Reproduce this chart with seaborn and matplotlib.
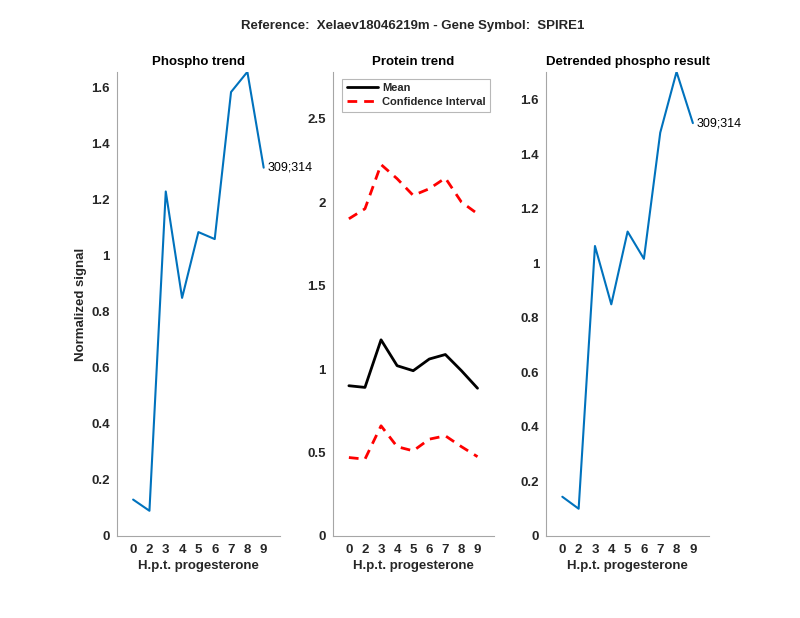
import seaborn as sns
import matplotlib
matplotlib.use('Agg')
import matplotlib.pyplot as plt
import pandas as pd

# time points (hours post progesterone), plotted at even positions
hpt_labels = ['0', '2', '3', '4', '5', '6', '7', '8', '9']
positions = [1, 2, 3, 4, 5, 6, 7, 8, 9]

phospho = [0.13, 0.09, 1.23, 0.85, 1.085, 1.06, 1.585, 1.657, 1.315]
protein_mean = [0.90, 0.89, 1.175, 1.02, 0.99, 1.06, 1.087, 0.99, 0.885]
protein_upper = [1.90, 1.96, 2.225, 2.14, 2.04, 2.08, 2.144, 2.00, 1.93]
protein_lower = [0.47, 0.46, 0.66, 0.535, 0.51, 0.58, 0.60, 0.535, 0.475]
detrended = [0.144, 0.10, 1.064, 0.85, 1.117, 1.017, 1.48, 1.703, 1.515]

site_label = '309;314'
gene_title = 'Reference:  Xelaev18046219m - Gene Symbol:  SPIRE1'

sns.set_style('white')
plt.rcParams['font.family'] = ['Liberation Sans', 'DejaVu Sans']

blue = '#0072BD'
spine_col = '#a6a6a6'
txt_col = '#262626'
dash = (0, (3.5, 2.5))

fig = plt.figure(figsize=(8, 6.18), dpi=100)
ax1 = fig.add_axes([0.146, 0.1327, 0.204, 0.751])
ax2 = fig.add_axes([0.416, 0.1327, 0.201, 0.751])
ax3 = fig.add_axes([0.6825, 0.1327, 0.204, 0.751])

df1 = pd.DataFrame({'pos': positions, 'val': phospho})
sns.lineplot(data=df1, x='pos', y='val', ax=ax1, color=blue, lw=1.5)
ax1.text(positions[-1] + 0.25, phospho[-1], site_label, fontsize=9,
         va='center', ha='left', color='black')
ax1.set_ylim(0, max(phospho))
ax1.set_yticks([0, 0.2, 0.4, 0.6, 0.8, 1.0, 1.2, 1.4, 1.6])
ax1.set_yticklabels(['0', '0.2', '0.4', '0.6', '0.8', '1', '1.2', '1.4', '1.6'])
ax1.set_title('Phospho trend', fontsize=9.5, fontweight='bold', color='black', pad=5)
ax1.set_ylabel('Normalized signal', fontsize=9.5, fontweight='bold', color=txt_col,
               labelpad=3)

df2 = pd.DataFrame({'pos': positions, 'mean': protein_mean,
                    'up': protein_upper, 'lo': protein_lower})
sns.lineplot(data=df2, x='pos', y='mean', ax=ax2, color='black', lw=2, label='Mean')
sns.lineplot(data=df2, x='pos', y='up', ax=ax2, color='red', lw=2,
             label='Confidence Interval')
ax2.lines[-1].set_linestyle(dash)
sns.lineplot(data=df2, x='pos', y='lo', ax=ax2, color='red', lw=2)
ax2.lines[-1].set_linestyle(dash)
ax2.set_ylim(0, 2.78)
ax2.set_yticks([0, 0.5, 1.0, 1.5, 2.0, 2.5])
ax2.set_yticklabels(['0', '0.5', '1', '1.5', '2', '2.5'])
ax2.set_title('Protein trend', fontsize=9.5, fontweight='bold', color='black', pad=5)
ax2.set_ylabel('')
leg = ax2.legend(loc='upper center', bbox_to_anchor=(0.52, 0.99), fontsize=8,
                 frameon=True, fancybox=False, borderpad=0.4, handlelength=2.8,
                 labelspacing=0.35, borderaxespad=0.2, handletextpad=0.4)
leg.get_frame().set_edgecolor(spine_col)
leg.get_frame().set_linewidth(0.8)
for t in leg.get_texts():
    t.set_fontweight('bold')

df3 = pd.DataFrame({'pos': positions, 'val': detrended})
sns.lineplot(data=df3, x='pos', y='val', ax=ax3, color=blue, lw=1.5)
ax3.text(positions[-1] + 0.25, detrended[-1], site_label, fontsize=9,
         va='center', ha='left', color='black')
ax3.set_ylim(0, max(detrended))
ax3.set_yticks([0, 0.2, 0.4, 0.6, 0.8, 1.0, 1.2, 1.4, 1.6])
ax3.set_yticklabels(['0', '0.2', '0.4', '0.6', '0.8', '1', '1.2', '1.4', '1.6'])
ax3.set_title('Detrended phospho result', fontsize=9.5, fontweight='bold',
              color='black', pad=5)
ax3.set_ylabel('')

for ax in (ax1, ax2, ax3):
    ax.set_xlim(0, 10)
    ax.set_xticks(positions)
    ax.set_xticklabels(hpt_labels)
    ax.set_xlabel('H.p.t. progesterone', fontsize=9.5, fontweight='bold',
                  color=txt_col, labelpad=3)
    for s in ('top', 'right'):
        ax.spines[s].set_visible(False)
    for s in ('left', 'bottom'):
        ax.spines[s].set_color(spine_col)
        ax.spines[s].set_linewidth(0.8)
    ax.tick_params(axis='x', direction='in', length=4, color=spine_col,
                   labelsize=9.5, labelcolor=txt_col, pad=6)
    ax.tick_params(axis='y', length=0, labelsize=9.5, labelcolor=txt_col, pad=5)
    for lab in ax.get_xticklabels() + ax.get_yticklabels():
        lab.set_fontweight('bold')

fig.text(0.516, 0.958, gene_title, fontsize=9.5, fontweight='bold',
         ha='center', va='center')

plt.savefig('out.png', dpi=100)
